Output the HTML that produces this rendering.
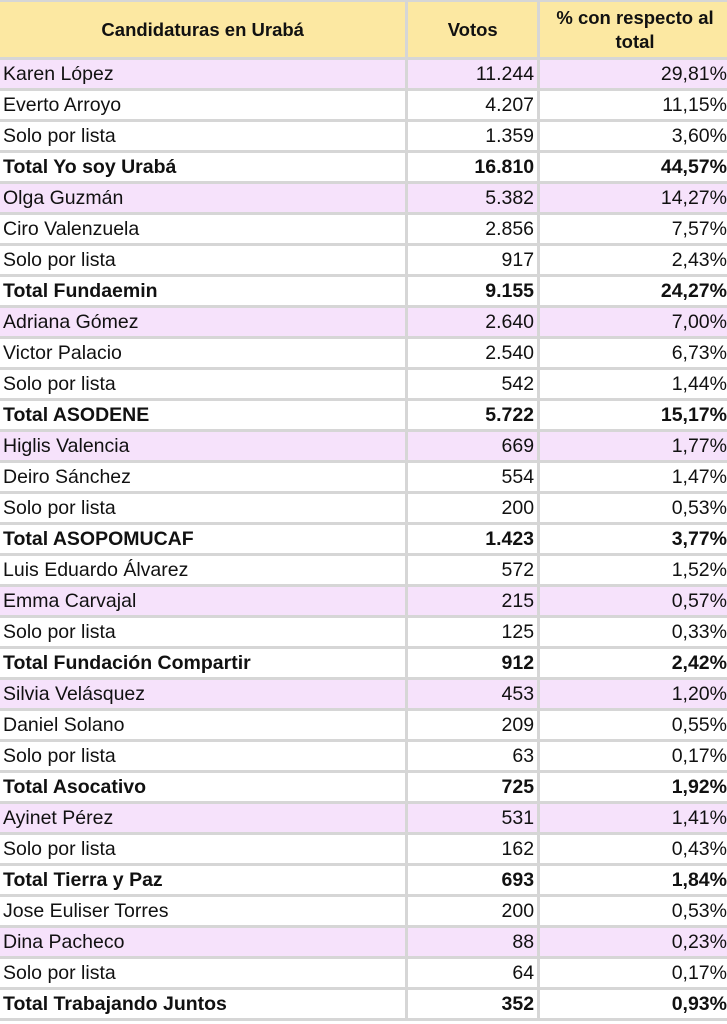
<!DOCTYPE html>
<html><head><meta charset="utf-8"><style>
body{margin:0;width:727px;height:1024px;overflow:hidden;background:#fff}
table{position:absolute;left:-3px;top:-1px;border-collapse:separate;border-spacing:3px;background:#d6d6d6;width:736px;table-layout:fixed;font-family:"Liberation Sans",sans-serif;font-size:19.5px;color:#111}
td,th{background:#fff;height:28px;padding:0 3px;line-height:28px;white-space:nowrap;overflow:hidden}
th{background:#fce8a2;height:55px;line-height:24px;font-weight:bold;font-size:18.5px;white-space:normal}
td:nth-child(2),td:nth-child(3){text-align:right}
tr.p td{background:#f6e2fb}
tr.b td{font-weight:bold}
</style></head><body>
<table>
<colgroup><col style="width:397px"><col style="width:126px"><col style="width:186px"></colgroup>
<tr><th>Candidaturas en Urabá</th><th>Votos</th><th style="padding:0 12px">% con respecto al total</th></tr>
<tr class="p"><td>Karen López</td><td>11.244</td><td>29,81%</td></tr>
<tr><td>Everto Arroyo</td><td>4.207</td><td>11,15%</td></tr>
<tr><td>Solo por lista</td><td>1.359</td><td>3,60%</td></tr>
<tr class="b"><td>Total Yo soy Urabá</td><td>16.810</td><td>44,57%</td></tr>
<tr class="p"><td>Olga Guzmán</td><td>5.382</td><td>14,27%</td></tr>
<tr><td>Ciro Valenzuela</td><td>2.856</td><td>7,57%</td></tr>
<tr><td>Solo por lista</td><td>917</td><td>2,43%</td></tr>
<tr class="b"><td>Total Fundaemin</td><td>9.155</td><td>24,27%</td></tr>
<tr class="p"><td>Adriana Gómez</td><td>2.640</td><td>7,00%</td></tr>
<tr><td>Victor Palacio</td><td>2.540</td><td>6,73%</td></tr>
<tr><td>Solo por lista</td><td>542</td><td>1,44%</td></tr>
<tr class="b"><td>Total ASODENE</td><td>5.722</td><td>15,17%</td></tr>
<tr class="p"><td>Higlis Valencia</td><td>669</td><td>1,77%</td></tr>
<tr><td>Deiro Sánchez</td><td>554</td><td>1,47%</td></tr>
<tr><td>Solo por lista</td><td>200</td><td>0,53%</td></tr>
<tr class="b"><td>Total ASOPOMUCAF</td><td>1.423</td><td>3,77%</td></tr>
<tr><td>Luis Eduardo Álvarez</td><td>572</td><td>1,52%</td></tr>
<tr class="p"><td>Emma Carvajal</td><td>215</td><td>0,57%</td></tr>
<tr><td>Solo por lista</td><td>125</td><td>0,33%</td></tr>
<tr class="b"><td>Total Fundación Compartir</td><td>912</td><td>2,42%</td></tr>
<tr class="p"><td>Silvia Velásquez</td><td>453</td><td>1,20%</td></tr>
<tr><td>Daniel Solano</td><td>209</td><td>0,55%</td></tr>
<tr><td>Solo por lista</td><td>63</td><td>0,17%</td></tr>
<tr class="b"><td>Total Asocativo</td><td>725</td><td>1,92%</td></tr>
<tr class="p"><td>Ayinet Pérez</td><td>531</td><td>1,41%</td></tr>
<tr><td>Solo por lista</td><td>162</td><td>0,43%</td></tr>
<tr class="b"><td>Total Tierra y Paz</td><td>693</td><td>1,84%</td></tr>
<tr><td>Jose Euliser Torres</td><td>200</td><td>0,53%</td></tr>
<tr class="p"><td>Dina Pacheco</td><td>88</td><td>0,23%</td></tr>
<tr><td>Solo por lista</td><td>64</td><td>0,17%</td></tr>
<tr class="b"><td>Total Trabajando Juntos</td><td>352</td><td>0,93%</td></tr>
</table>
</body></html>
